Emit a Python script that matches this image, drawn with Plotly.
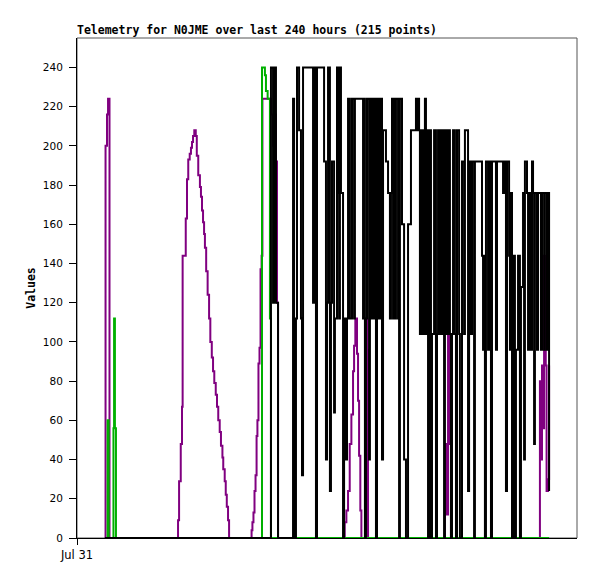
"""
Telemetry chart for N0JME: four channels over the last 240 hours, drawn
as stepped lines like the original station page.
"""

import plotly.graph_objects as go

TITLE = "Telemetry for N0JME over last 240 hours (215 points)"

# hours since Jul 31 00:00
X_TICK_VALS = [0]
X_TICK_TEXT = ["Jul 31"]
Y_TICK_VALS = [0, 20, 40, 60, 80, 100, 120, 140, 160, 180, 200, 220, 240]

blue_hours = [13.4, 226.6]
blue_vals = [0, 0]

purple_hours = [
    13.4, 13.7, 14.4, 14.9, 15.6,
    48.5, 49.0, 49.8, 50.4, 50.7, 52.2, 52.8, 53.4, 54.1, 54.7, 55.2, 55.7,
    56.3, 57.0, 57.5, 58.2, 59.0, 59.5, 60.0, 60.5, 61.0, 61.4, 62.0, 62.7,
    63.4, 64.0, 64.7, 65.3, 65.9, 66.6, 67.2, 67.8, 68.5, 69.1, 69.8, 70.2,
    70.9, 71.4, 71.9, 72.5, 73.0,
    83.8, 84.2, 84.7, 85.2, 85.7, 86.2, 86.6, 87.1, 87.6, 88.1, 88.6, 89.0,
    93.1, 94.1, 94.6, 95.5, 96.0, 96.5,
    128.5, 129.3, 130.1, 130.9, 131.7, 132.5, 133.0, 133.6, 134.4, 134.9,
    135.4, 136.0, 136.5, 138.9, 139.4, 139.7,
    176.6, 177.4, 178.1, 179.0, 179.5,
    222.2, 222.7, 223.2, 223.7, 224.2, 224.6, 225.0, 225.4, 226.1, 226.6,
]
purple_vals = [
    0, 200, 216, 224, 0,
    9, 29, 48, 67, 144, 163, 183, 193, 196, 199, 202, 205,
    208, 205, 195, 185, 179, 174, 167, 161, 155, 148, 136, 124,
    112, 100, 92, 85, 79, 73, 67, 60, 54, 47, 41, 35,
    29, 22, 16, 9, 0,
    4, 8, 13, 24, 32, 52, 60, 89, 97, 137, 144, 224,
    216, 200, 216, 192, 120, 0,
    8, 14, 24, 48, 63, 85, 98, 112, 94, 70,
    42, 14, 0, 112, 96, 0,
    48, 12, 104, 48, 0,
    80, 40, 88, 56, 144, 120, 88, 24, 30, 88,
]

green_hours = [
    13.4, 14.7, 15.2, 17.5, 17.8, 18.2, 18.7,
    88.8, 90.2, 90.7, 91.5, 92.6, 93.1, 226.6,
]
green_vals = [
    0, 60, 0, 56, 112, 56, 0,
    240, 236, 228, 224, 112, 0, 0,
]

black_hours = [
    13.4, 93.1, 94.1, 94.6, 95.5, 96.5,
    103.7, 104.2, 104.6, 105.1, 105.6, 106.6, 107.5, 108.0, 108.5, 113.3,
    113.8, 114.7, 115.2, 118.6, 119.5, 120.0, 120.5, 121.4, 121.9, 122.4,
    123.4, 123.8, 124.8, 125.3, 125.8, 126.2, 126.7, 127.7, 128.2, 129.1,
    129.6, 130.1, 131.0, 132.0, 133.0, 133.4, 137.3, 137.8, 138.2, 138.7,
    139.2, 140.2, 140.6, 141.1, 141.6, 142.1, 142.6, 143.0, 143.5, 144.0,
    144.5, 145.0, 145.4, 145.9, 146.4, 146.9, 148.3, 149.3, 150.2, 150.7,
    151.2, 151.7, 152.2, 152.6, 153.1, 154.1, 154.6, 155.0, 156.0, 157.0,
    157.9, 158.9, 160.3, 162.7, 163.2, 163.7, 164.2, 164.6, 165.1, 165.6,
    166.1, 166.6, 167.0, 167.5, 168.0, 168.5, 169.0, 169.4, 169.9, 170.4,
    171.4, 172.3, 172.8, 173.3, 174.2, 174.7, 175.2, 175.7, 176.2, 176.6,
    177.1, 177.6, 178.1, 178.6, 179.0,
    179.5, 180.0, 180.5, 181.4, 181.9, 182.4, 183.4, 183.8, 184.8, 185.8,
    186.2, 187.7, 188.2, 189.1, 189.6, 190.6, 191.0, 194.4, 194.9, 195.4,
    195.8, 196.3, 197.3, 197.8, 198.7, 199.2, 201.1, 201.6, 204.5, 205.4,
    205.9, 206.4, 207.4, 207.8, 208.3, 208.8, 209.3, 210.2, 210.7, 211.7,
    212.6, 213.1, 214.1, 214.6, 215.0, 216.0, 216.5, 217.0, 217.9, 218.4,
    218.9, 219.4, 219.8, 220.8, 221.3, 222.7, 223.2, 224.2, 224.6, 225.6,
    226.1, 226.6,
]
black_vals = [
    0, 240, 120, 240, 120, 0,
    224, 112, 0, 112, 240, 208, 112, 32, 240, 120,
    240, 0, 240, 192, 40, 120, 240, 24, 120, 192,
    64, 112, 240, 176, 112, 240, 176, 0, 112, 40,
    112, 224, 112, 224, 112, 224, 112, 224, 0, 112,
    224, 40, 112, 224, 112, 224, 112, 224, 0, 224,
    112, 224, 112, 224, 40, 208, 192, 176, 112, 176,
    224, 112, 224, 112, 224, 112, 0, 224, 160, 40,
    0, 160, 208, 224, 208, 224, 208, 104, 208, 104,
    208, 104, 224, 104, 208, 0, 104, 208, 0, 104,
    208, 0, 104, 208, 104, 208, 104, 208, 0, 208,
    104, 208, 104, 208, 104,
    0, 104, 208, 104, 0, 208, 104, 0, 192, 104,
    208, 24, 192, 104, 192, 0, 192, 144, 96, 144,
    0, 192, 96, 192, 0, 192, 96, 192, 176, 192,
    24, 192, 144, 96, 176, 0, 144, 0, 96, 144,
    0, 128, 176, 40, 192, 176, 96, 176, 96, 192,
    176, 48, 176, 96, 176, 96, 176, 96, 176, 96,
    176, 24,
]

MONO = "DejaVu Sans Mono"
SANS = "DejaVu Sans"


def step_trace(hours, vals, color):
    return go.Scatter(
        x=hours, y=vals, mode="lines", line_shape="hv",
        line={"color": color, "width": 2}, hoverinfo="skip",
    )


fig = go.Figure()
# drawn bottom to top: blue, purple, green, black
fig.add_trace(step_trace(blue_hours, blue_vals, "#0a6fc8"))
fig.add_trace(step_trace(purple_hours, purple_vals, "#800080"))
fig.add_trace(step_trace(green_hours, green_vals, "#00b000"))
fig.add_trace(step_trace(black_hours, black_vals, "#000000"))

# the page body has an 8px margin, so the figure is a bit smaller than the window
fig.update_layout(
    width=589, height=571,
    margin={"l": 69, "r": 20, "t": 30, "b": 41, "pad": 0},
    paper_bgcolor="white", plot_bgcolor="white",
    showlegend=False,
    title={
        "text": f"<b>{TITLE}</b>",
        "font": {"family": MONO, "size": 11.5, "color": "black"},
        "xref": "container", "yref": "container",
        "x": 69 / 589, "xanchor": "left",
        "y": 1 - 18 / 571, "yanchor": "top",
    },
    shapes=[{
        "type": "rect", "xref": "paper", "yref": "paper",
        "x0": 0, "y0": 0, "x1": 1, "y1": 1,
        "line": {"color": "#555555", "width": 1}, "layer": "below",
    }],
)
fig.update_xaxes(
    range=[0, 240], tickvals=X_TICK_VALS, ticktext=X_TICK_TEXT,
    ticks="outside", ticklen=6, tickcolor="black", tickwidth=1,
    showline=True, linecolor="black", linewidth=1,
    showgrid=False, zeroline=False,
    tickfont={"family": SANS, "size": 11.5, "color": "black"},
)
fig.update_yaxes(
    range=[0, 255], tickvals=Y_TICK_VALS,
    ticks="outside", ticklen=7, tickcolor="black", tickwidth=1,
    ticklabelstandoff=4,
    showline=True, linecolor="black", linewidth=1,
    showgrid=False, zeroline=False,
    tickfont={"family": SANS, "size": 10.5, "color": "black"},
    title={"text": "<b>Values</b>", "standoff": 4,
           "font": {"family": MONO, "size": 11.5, "color": "black"}},
)

fig.write_html("out.html")
